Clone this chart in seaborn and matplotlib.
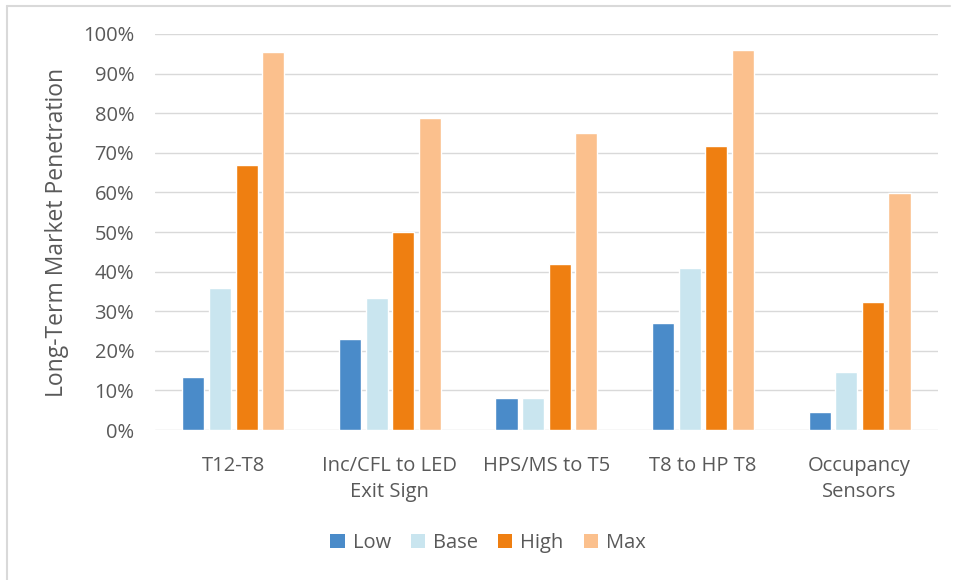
import matplotlib
matplotlib.use("Agg")
import matplotlib.pyplot as plt
import seaborn as sns
import pandas as pd
from matplotlib.ticker import PercentFormatter
from matplotlib.lines import Line2D
from matplotlib.patches import Patch

categories = ["T12-T8", "Inc/CFL to LED\nExit Sign", "HPS/MS to T5", "T8 to HP T8", "Occupancy\nSensors"]
series = ["Low", "Base", "High", "Max"]
low = [0.135, 0.231, 0.082, 0.269, 0.046]
base = [0.358, 0.334, 0.082, 0.410, 0.147]
high = [0.669, 0.499, 0.418, 0.718, 0.324]
maxv = [0.955, 0.787, 0.749, 0.960, 0.599]
colors = ["#4A8BC9", "#C9E5EF", "#EF7F11", "#FBC08D"]

rows = []
for name, vals in zip(series, [low, base, high, maxv]):
    for c, v in zip(categories, vals):
        rows.append({"Category": c, "Scenario": name, "Value": v})
df = pd.DataFrame(rows)

sns.set_theme(style="white")
plt.rcParams["font.family"] = ["Open Sans", "DejaVu Sans"]
text_color = "#595959"

fig = plt.figure(figsize=(9.57, 5.8), dpi=100)
ax = fig.add_axes([0.162, 0.2586, 0.818, 0.6828])

sns.barplot(data=df, x="Category", y="Value", hue="Scenario", order=categories,
            hue_order=series, palette=colors, width=0.68, gap=0.17,
            saturation=1, ax=ax, legend=False)

ax.set_ylim(0, 1.0)
ax.set_xlim(-0.5, len(categories) - 0.5)
ax.set_yticks([i / 10 for i in range(11)])
ax.yaxis.set_major_formatter(PercentFormatter(1.0, decimals=0))
ax.grid(axis="y", color="#D9D9D9", linewidth=1)
ax.set_axisbelow(True)
for s in ax.spines.values():
    s.set_visible(False)
ax.tick_params(axis="both", length=0, colors=text_color, labelsize=14.5)
ax.tick_params(axis="y", pad=15)
ax.tick_params(axis="x", pad=19)
ax.set_xlabel("")
ax.set_ylabel("Long-Term Market Penetration", color=text_color, fontsize=16.5, labelpad=10)
for lbl in ax.get_xticklabels():
    lbl.set_linespacing(1.4)

handles = [Patch(facecolor=c, edgecolor="none") for c in colors]
fig.legend(handles, series, loc="center", bbox_to_anchor=(0.51, 0.064), ncol=4,
           frameon=False, fontsize=14.5, handlelength=0.7, handleheight=0.7,
           handletextpad=0.4, columnspacing=1.0, labelcolor=text_color)

# outer frame lines (top and left)
fig.add_artist(Line2D([7 / 957, 7 / 957], [0, 1 - 6 / 580], color="#D9D9D9", linewidth=1.5, transform=fig.transFigure))
fig.add_artist(Line2D([7 / 957, 950 / 957], [1 - 6 / 580, 1 - 6 / 580], color="#D9D9D9", linewidth=1.5, transform=fig.transFigure))

fig.savefig("out.png", dpi=100, facecolor="white")
